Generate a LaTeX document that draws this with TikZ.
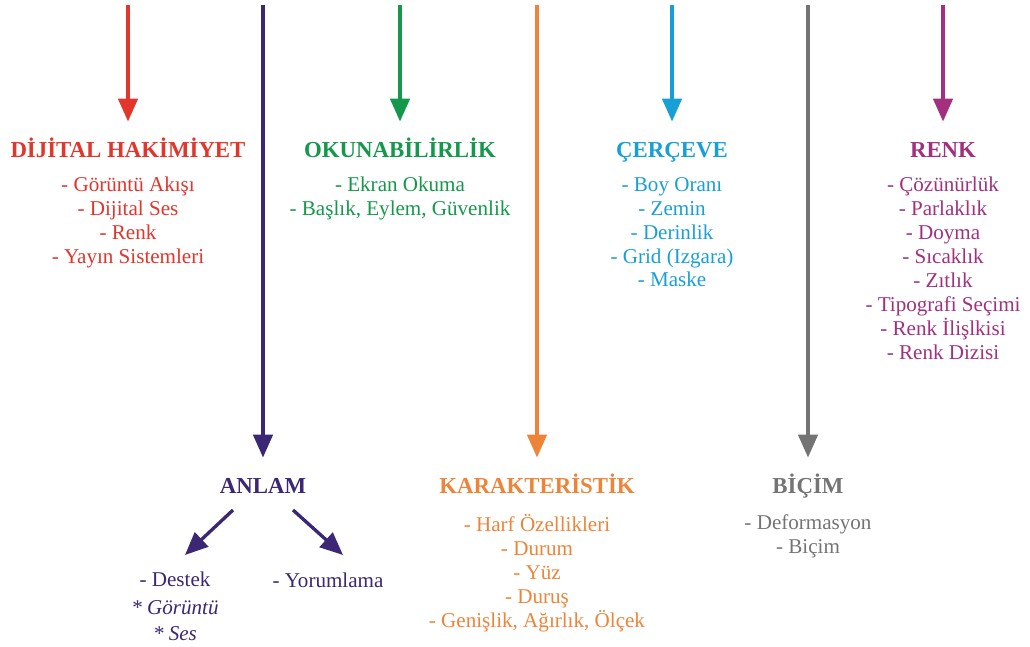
\documentclass[tikz,border=0pt]{standalone}
\usepackage{fontspec}
\setmainfont{Liberation Serif}
\usepackage{xcolor}
\usetikzlibrary{positioning, arrows.meta}

\definecolor{dijred}{HTML}{E2352B}
\definecolor{anlampurple}{HTML}{3B2774}
\definecolor{okugreen}{HTML}{15984B}
\definecolor{karorange}{HTML}{EE843A}
\definecolor{cercblue}{HTML}{18A0D6}
\definecolor{bicgray}{HTML}{747474}
\definecolor{renkmagenta}{HTML}{A2307E}

\begin{document}
\begin{tikzpicture}[x=0.02cm, y=-0.02cm,
    head/.style={font=\fontsize{13}{15}\selectfont\bfseries, text height=9pt, text depth=0pt, inner sep=1pt, anchor=base},
    items/.style={font=\fontsize{12}{13.6}\selectfont, align=center, inner sep=0pt, anchor=north, execute at begin node=\strut},
    flow/.style={line width=1.9pt, -{Triangle[length=13pt, width=11pt]}, shorten >=10pt}]
                    \useasboundingbox (0,0) rectangle (1030,646);

                    % Start points of the arrows at the top edge
                    \coordinate (topDij) at (128,5);
                    \coordinate (topAnl) at (263,5);
                    \coordinate (topOku) at (400,5);
                    \coordinate (topKar) at (537,5);
                    \coordinate (topCer) at (672,5);
                    \coordinate (topBic) at (808,5);
                    \coordinate (topRen) at (943,5);

                    % Upper row of headings with their lists
                    \node[head, text=dijred] (dijital) at (128,157) {DİJİTAL HAKİMİYET};
                    \node[items, text=dijred] (dijitalList) at (128,177) {- Görüntü Akışı\\- Dijital Ses\\- Renk\\- Yayın Sistemleri};

                    \node[head, text=okugreen] (okuna) at (400,157) {OKUNABİLİRLİK};
                    \node[items, text=okugreen] (okunaList) at (400,177) {- Ekran Okuma\\- Başlık, Eylem, Güvenlik};

                    \node[head, text=cercblue] (cerceve) at (672,157) {ÇERÇEVE};
                    \node[items, text=cercblue] (cerceveList) at (672,177) {- Boy Oranı\\- Zemin\\- Derinlik\\- Grid (Izgara)\\- Maske};

                    \node[head, text=renkmagenta] (renk) at (943,157) {RENK};
                    \node[items, text=renkmagenta] (renkList) at (943,177) {- Çözünürlük\\- Parlaklık\\- Doyma\\- Sıcaklık\\- Zıtlık\\- Tipografi Seçimi\\- Renk İlişlkisi\\- Renk Dizisi};

                    % Lower row of headings with their lists
                    \node[head, text=anlampurple] (anlam) at (263,493) {ANLAM};
                    \node[items, text=anlampurple] (destek) at (175,572) {- Destek\\[2.3pt]\textit{* Görüntü}\\[1.2pt]\textit{* Ses}};
                    \node[items, text=anlampurple] (yorum) at (328,570) {- Yorumlama};

                    \node[head, text=karorange] (karakter) at (537,493) {KARAKTERİSTİK};
                    \node[items, text=karorange] (karakterList) at (537,514) {- Harf Özellikleri\\- Durum\\- Yüz\\- Duruş\\- Genişlik, Ağırlık, Ölçek};

                    \node[head, text=bicgray] (bicim) at (808,493) {BİÇİM};
                    \node[items, text=bicgray] (bicimList) at (808,514) {- Deformasyon\\- Biçim};

                    % Long arrows down to the headings
                    \draw[flow, dijred] (topDij) -- (dijital.north);
                    \draw[flow, anlampurple] (topAnl) -- (anlam.north);
                    \draw[flow, okugreen] (topOku) -- (okuna.north);
                    \draw[flow, karorange] (topKar) -- (karakter.north);
                    \draw[flow, cercblue] (topCer) -- (cerceve.north);
                    \draw[flow, bicgray] (topBic) -- (bicim.north);
                    \draw[flow, renkmagenta] (topRen) -- (renk.north);

                    % Branches below ANLAM
                    \draw[flow, anlampurple, shorten >=0pt] ([shift={(-30,17)}]anlam.base) -- ([shift={(10,-17)}]destek.north);
                    \draw[flow, anlampurple, shorten >=0pt] ([shift={(30,17)}]anlam.base) -- ([shift={(15,-15)}]yorum.north);
                \end{tikzpicture}
\end{document}
